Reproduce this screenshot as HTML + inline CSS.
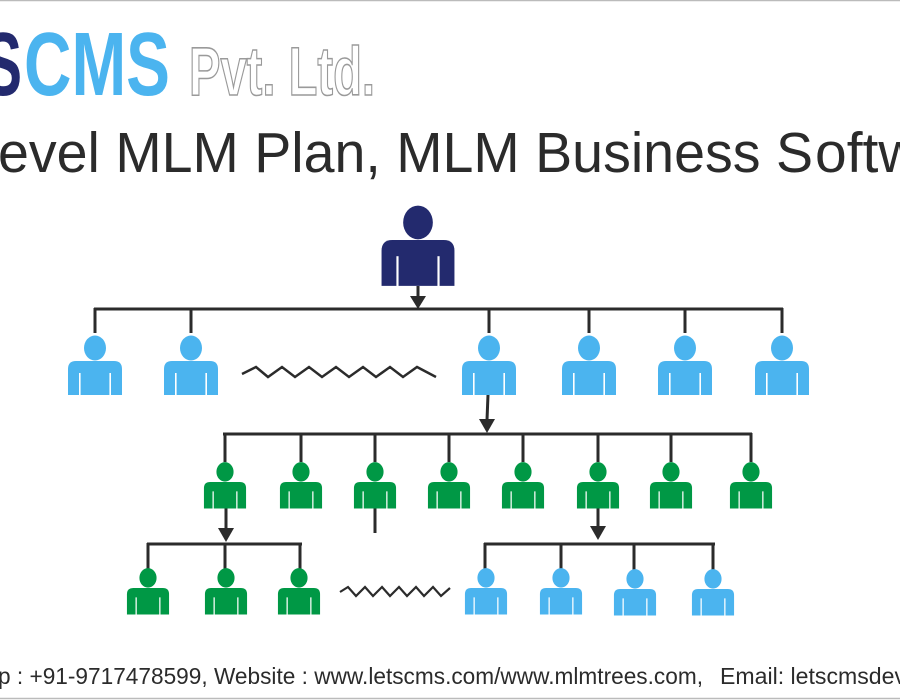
<!DOCTYPE html>
<html><head><meta charset="utf-8"><style>
html,body{margin:0;padding:0;background:#fff;width:900px;height:700px;overflow:hidden}
svg{display:block}
</style></head><body>
<svg width="900" height="700" viewBox="0 0 900 700" xmlns="http://www.w3.org/2000/svg">
<defs>
<g id="p">
<ellipse cx="0" cy="-13" rx="11" ry="12.5"/>
<path d="M-27 34 V8 Q-27 0 -19 0 H19 Q27 0 27 8 V34 Z"/>
<rect x="-16" y="12" width="1.6" height="23" fill="#fff"/>
<rect x="14.4" y="12" width="1.6" height="23" fill="#fff"/>
</g>
</defs>
<line x1="0" y1="0.5" x2="900" y2="0.5" stroke="#bbb" stroke-width="1.5"/>
<line x1="0" y1="698.5" x2="900" y2="698.5" stroke="#bbb" stroke-width="1.5"/>

<!-- logo -->
<g font-family="Liberation Sans, sans-serif" font-weight="bold">
<text x="-16" y="95" font-size="90" fill="#232a6e" textLength="38" lengthAdjust="spacingAndGlyphs">S</text>
<text x="24" y="95" font-size="90" fill="#4bb4ef" textLength="146" lengthAdjust="spacingAndGlyphs">CMS</text>
<text x="189" y="95" font-size="69" fill="#fff" stroke="#9a9a9a" stroke-width="1.6" textLength="186" lengthAdjust="spacingAndGlyphs">Pvt. Ltd.</text>
</g>

<!-- title -->
<text x="-2" y="172" font-family="Liberation Sans, sans-serif" font-size="57" fill="#2b2b2b" textLength="815" lengthAdjust="spacingAndGlyphs">evel MLM Plan, MLM Business S</text>
<text x="815" y="172" font-family="Liberation Sans, sans-serif" font-size="57" fill="#2b2b2b">oftw</text>

<!-- connectors -->
<g stroke="#2b2b2b" stroke-width="3" fill="none">
<line x1="418" y1="286" x2="418" y2="298"/>
<line x1="94" y1="309" x2="783" y2="309"/>
<line x1="95" y1="308" x2="95" y2="333"/>
<line x1="191" y1="308" x2="191" y2="333"/>
<line x1="489" y1="308" x2="489" y2="333"/>
<line x1="589" y1="308" x2="589" y2="333"/>
<line x1="685" y1="308" x2="685" y2="333"/>
<line x1="782" y1="308" x2="782" y2="333"/>
<polyline points="242,374 256,367 268,377 282,367 295,377 309,367 322,377 336,367 349,377 363,367 376,377 390,367 403,377 417,367 436,377" stroke-width="2.5"/>
<line x1="488" y1="395" x2="487" y2="420"/>
<line x1="223" y1="434" x2="752" y2="434"/>
<line x1="225" y1="433" x2="225" y2="462"/>
<line x1="301" y1="433" x2="301" y2="462"/>
<line x1="375" y1="433" x2="375" y2="462"/>
<line x1="449" y1="433" x2="449" y2="462"/>
<line x1="523" y1="433" x2="523" y2="462"/>
<line x1="598" y1="433" x2="598" y2="462"/>
<line x1="671" y1="433" x2="671" y2="462"/>
<line x1="751" y1="433" x2="751" y2="462"/>
<line x1="226" y1="507" x2="226" y2="530"/>
<line x1="375" y1="507" x2="375" y2="533"/>
<line x1="598" y1="507" x2="598" y2="528"/>
<line x1="147" y1="544" x2="302" y2="544"/>
<line x1="148" y1="543" x2="148" y2="571"/>
<line x1="225" y1="543" x2="225" y2="571"/>
<line x1="300" y1="543" x2="300" y2="571"/>
<line x1="484" y1="544" x2="715" y2="544"/>
<line x1="485" y1="543" x2="485" y2="571"/>
<line x1="561" y1="543" x2="561" y2="571"/>
<line x1="634" y1="543" x2="634" y2="571"/>
<line x1="713" y1="543" x2="713" y2="571"/>
<polyline points="340,592 348,587 356,596 365,587 373,596 382,587 390,596 399,587 407,596 416,587 424,596 433,587 441,596 450,588" stroke-width="2.2"/>
</g>
<g fill="#2b2b2b">
<polygon points="410,296 426,296 418,309"/>
<polygon points="479,419 495,419 487,433"/>
<polygon points="218,528 234,528 226,542"/>
<polygon points="590,526 606,526 598,540"/>
</g>

<!-- people -->
<use href="#p" transform="translate(418,240) scale(1.35)" fill="#232a6e"/>
<g fill="#4bb4ef">
<use href="#p" transform="translate(95,361)"/>
<use href="#p" transform="translate(191,361)"/>
<use href="#p" transform="translate(489,361)"/>
<use href="#p" transform="translate(589,361)"/>
<use href="#p" transform="translate(685,361)"/>
<use href="#p" transform="translate(782,361)"/>
</g>
<g fill="#009845">
<use href="#p" transform="translate(225,482) scale(0.78)"/>
<use href="#p" transform="translate(301,482) scale(0.78)"/>
<use href="#p" transform="translate(375,482) scale(0.78)"/>
<use href="#p" transform="translate(449,482) scale(0.78)"/>
<use href="#p" transform="translate(523,482) scale(0.78)"/>
<use href="#p" transform="translate(598,482) scale(0.78)"/>
<use href="#p" transform="translate(671,482) scale(0.78)"/>
<use href="#p" transform="translate(751,482) scale(0.78)"/>
<use href="#p" transform="translate(148,588) scale(0.78)"/>
<use href="#p" transform="translate(226,588) scale(0.78)"/>
<use href="#p" transform="translate(299,588) scale(0.78)"/>
</g>
<g fill="#4bb4ef">
<use href="#p" transform="translate(486,588) scale(0.78)"/>
<use href="#p" transform="translate(561,588) scale(0.78)"/>
<use href="#p" transform="translate(635,589) scale(0.78)"/>
<use href="#p" transform="translate(713,589) scale(0.78)"/>
</g>

<!-- footer -->
<text x="-2" y="684" font-family="Liberation Sans, sans-serif" font-size="23" fill="#2b2b2b" textLength="705" lengthAdjust="spacingAndGlyphs">p : +91-9717478599, Website : www.letscms.com/www.mlmtrees.com,</text>
<text x="720" y="684" font-family="Liberation Sans, sans-serif" font-size="23" fill="#2b2b2b" textLength="186" lengthAdjust="spacingAndGlyphs">Email: letscmsdev</text>
</svg>
</body></html>
